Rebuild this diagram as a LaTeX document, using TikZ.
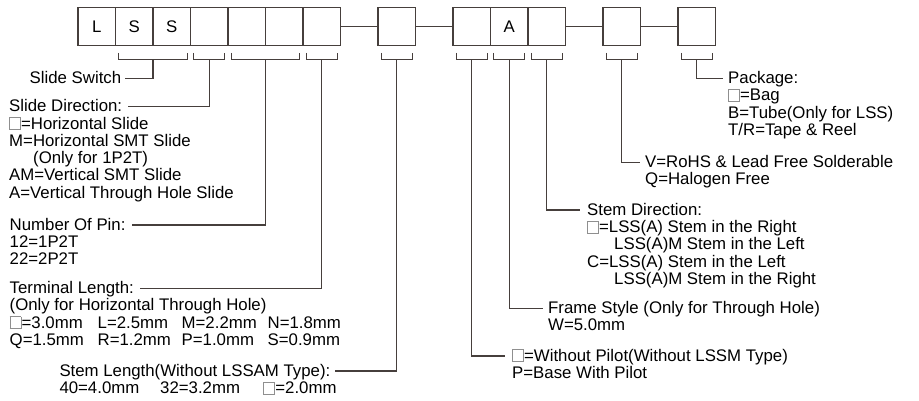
\documentclass[tikz,border=0pt]{standalone}
\usepackage{fontspec}
\setmainfont{Liberation Sans}
\usetikzlibrary{calc}
\definecolor{linec}{HTML}{463F3C}
\definecolor{sqc}{HTML}{8F8F8F}
\newcommand{\blanksq}{{\color{sqc}\setlength{\fboxsep}{0pt}\setlength{\fboxrule}{0.8pt}\fbox{\rule{0pt}{11pt}\hspace{10pt}}}\hspace{0.3pt}}
\tikzset{
  fnt/.style={font=\fontsize{16.8}{17.3}\selectfont},
  cell/.style={draw=linec, line width=1.3pt, minimum size=37.5pt, inner sep=0pt, fnt},
  ttl/.style={fnt, inner sep=0pt, text height=10pt, text depth=0pt, anchor=west},
  bdy/.style={fnt, inner sep=0pt, align=left, anchor=north west},
  con/.style={draw=linec, line width=1.1pt},
}
\newcommand{\brk}[3]{%
  \coordinate (#1l) at ([xshift=4pt,yshift=-7pt]#2.south west);
  \coordinate (#1r) at ([xshift=-4pt,yshift=-7pt]#3.south east);
  \draw[con] (#1l) -- ++(0,7) -| (#1r);
  \coordinate (#1) at ($(#1l)!0.5!(#1r)+(0,7)$);
}
\begin{document}
\begin{tikzpicture}[x=1pt,y=-1pt]
\fill[white] (0,0) rectangle (919,401);
\useasboundingbox (0,0) rectangle (919,401);
% code boxes
\node[cell] (b1) at (96.75,26.5) {L};
\node[cell] (b2) at (134.25,26.5) {S};
\node[cell] (b3) at (171.75,26.5) {S};
\node[cell] (b4) at (209.25,26.5) {};
\node[cell] (b5) at (246.75,26.5) {};
\node[cell] (b6) at (284.25,26.5) {};
\node[cell] (b7) at (321.75,26.5) {};
\node[cell] (b8) at (396.75,26.5) {};
\node[cell] (b9) at (471.75,26.5) {};
\node[cell] (b10) at (509.25,26.5) {A};
\node[cell] (b11) at (546.75,26.5) {};
\node[cell] (b12) at (621.75,26.5) {};
\node[cell] (b13) at (696.75,26.5) {};
\draw[con] (b7.east) -- (b8.west);
\draw[con] (b8.east) -- (b9.west);
\draw[con] (b11.east) -- (b12.west);
\draw[con] (b12.east) -- (b13.west);
% brackets
\brk{k1}{b2}{b3}
\brk{k2}{b4}{b4}
\brk{k3}{b5}{b6}
\brk{k4}{b7}{b7}
\brk{k5}{b8}{b8}
\brk{k6}{b9}{b9}
\brk{k7}{b10}{b10}
\brk{k8}{b11}{b11}
\brk{k9}{b12}{b12}
\brk{k10}{b13}{b13}
% left labels
\node[ttl] (ss) at (29.5,78.3) {Slide Switch};
\node[ttl] (sd) at (9,106.5) {Slide Direction:};
\node[bdy] (sdb) at ([yshift=-4.3pt]sd.base west) {\rule{0pt}{13pt}\blanksq=Horizontal Slide\\M=Horizontal SMT Slide\\\hspace*{24pt}(Only for 1P2T)\\AM=Vertical SMT Slide\\A=Vertical Through Hole Slide};
\node[ttl] (np) at (9.5,225) {Number Of Pin:};
\node[bdy] (npb) at ([yshift=-4.3pt]np.base west) {\rule{0pt}{13pt}12=1P2T\\22=2P2T};
\node[ttl] (tl) at (9.5,288.3) {Terminal Length:};
\node[bdy] (tlb) at ([yshift=-4.3pt]tl.base west) {\rule{0pt}{13pt}(Only for Horizontal Through Hole)\\\makebox[88pt][l]{\blanksq=3.0mm}\makebox[84pt][l]{L=2.5mm}\makebox[86pt][l]{M=2.2mm}N=1.8mm\\\makebox[88pt][l]{Q=1.5mm}\makebox[84pt][l]{R=1.2mm}\makebox[86pt][l]{P=1.0mm}S=0.9mm};
\node[ttl] (sl) at (59.3,371) {Stem Length(Without LSSAM Type):};
\node[bdy] (slb) at ([yshift=-4.3pt]sl.base west) {\rule{0pt}{13pt}\makebox[100.7pt][l]{40=4.0mm}\makebox[103.3pt][l]{32=3.2mm}\blanksq=2.0mm};
% right labels
\node[ttl] (wp) at (512,356) {\blanksq=Without Pilot(Without LSSM Type)};
\node[bdy] (wpb) at ([yshift=-4.3pt]wp.base west) {\rule{0pt}{13pt}P=Base With Pilot};
\node[ttl] (fs) at (548,308.3) {Frame Style (Only for Through Hole)};
\node[bdy] (fsb) at ([yshift=-4.3pt]fs.base west) {\rule{0pt}{13pt}W=5.0mm};
\node[ttl] (sdir) at (587,210) {Stem Direction:};
\node[bdy] (sdirb) at ([yshift=-4.3pt]sdir.base west) {\rule{0pt}{13pt}\blanksq=LSS(A) Stem in the Right\\\hspace*{27pt}LSS(A)M Stem in the Left\\C=LSS(A) Stem in the Left\\\hspace*{27pt}LSS(A)M Stem in the Right};
\node[ttl] (rh) at (645,162.5) {V=RoHS \& Lead Free Solderable};
\node[bdy] (rhb) at ([yshift=-4.3pt]rh.base west) {\rule{0pt}{13pt}Q=Halogen Free};
\node[ttl] (pk) at (728,78.3) {Package:};
\node[bdy] (pkb) at ([yshift=-4.3pt]pk.base west) {\rule{0pt}{13pt}\blanksq=Bag\\B=Tube(Only for LSS)\\T/R=Tape \& Reel};
% connectors
\draw[con] (k1) |- ([xshift=4pt]ss.east);
\draw[con] (k2) |- ([xshift=6pt]sd.east);
\draw[con] (k3) |- ([xshift=6pt]np.east);
\draw[con] (k4) |- ([xshift=6pt]tl.east);
\draw[con] (k5) |- ([xshift=5pt]sl.east);
\draw[con] (k6) |- ([xshift=-7pt]wp.west);
\draw[con] (k7) |- ([xshift=-5pt]fs.west);
\draw[con] (k8) |- ([xshift=-7pt]sdir.west);
\draw[con] (k9) |- ([xshift=-5pt]rh.west);
\draw[con] (k10) |- ([xshift=-5pt]pk.west);
\end{tikzpicture}
\end{document}
